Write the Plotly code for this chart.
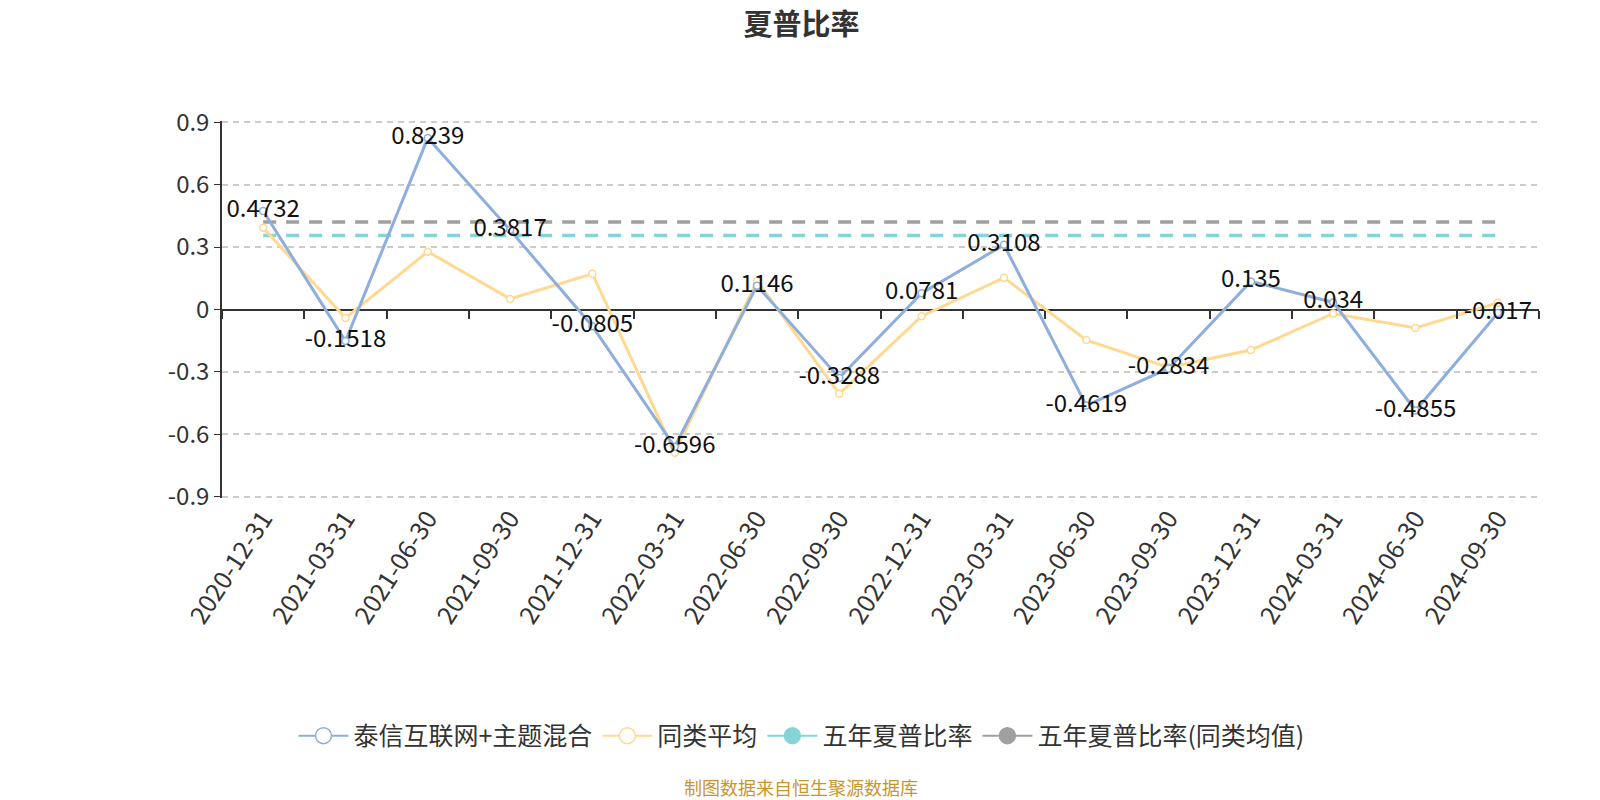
import plotly.graph_objects as go

dates = ["2020-12-31", "2021-03-31", "2021-06-30", "2021-09-30", "2021-12-31",
         "2022-03-31", "2022-06-30", "2022-09-30", "2022-12-31", "2023-03-31",
         "2023-06-30", "2023-09-30", "2023-12-31", "2024-03-31", "2024-06-30",
         "2024-09-30"]

fund_sharpe = [0.4732, -0.1518, 0.8239, 0.3817, -0.0805, -0.6596, 0.1146, -0.3288,
               0.0781, 0.3108, -0.4619, -0.2834, 0.135, 0.034, -0.4855, -0.017]

peer_avg = [0.393, -0.041, 0.278, 0.051, 0.172, -0.689, 0.137, -0.405,
            -0.032, 0.153, -0.147, -0.278, -0.195, -0.019, -0.089, 0.032]

five_year = 0.356
five_year_peer = 0.42

y_ticks = [0.9, 0.6, 0.3, 0, -0.3, -0.6, -0.9]
y_tick_text = ["0.9", "0.6", "0.3", "0", "-0.3", "-0.6", "-0.9"]

FONT = "Noto Sans CJK SC, Microsoft YaHei, sans-serif"
BLUE = "#8eaedc"
ORANGE = "#ffd892"
TEAL = "#86d4d8"
GRAY = "#a0a0a0"

fig = go.Figure()

# dashed reference lines first, so the series lie on top
fig.add_trace(go.Scatter(
    x=dates, y=[five_year] * len(dates), name="五年夏普比率",
    mode="lines", showlegend=False, hoverinfo="skip",
    line=dict(color=TEAL, width=3.5, dash="13px,10px"),
))
fig.add_trace(go.Scatter(
    x=dates, y=[five_year_peer] * len(dates), name="五年夏普比率(同类均值)",
    mode="lines", showlegend=False, hoverinfo="skip",
    line=dict(color=GRAY, width=3.5, dash="13px,10px"),
))

fig.add_trace(go.Scatter(
    x=dates, y=peer_avg, name="同类平均",
    mode="lines+markers", showlegend=False,
    line=dict(color=ORANGE, width=3),
    marker=dict(size=7, color="white", line=dict(color=ORANGE, width=1.5)),
))

fig.add_trace(go.Scatter(
    x=dates, y=fund_sharpe, name="泰信互联网+主题混合",
    mode="lines+markers+text", showlegend=False,
    line=dict(color=BLUE, width=3),
    marker=dict(size=7, color="white", line=dict(color=BLUE, width=1.5)),
    text=[str(v) for v in fund_sharpe],
    textposition="middle center",
    textfont=dict(size=24, color="#111", family=FONT),
))

# invisible trace so the tick-only axis at zero is drawn
fig.add_trace(go.Scatter(
    x=dates, y=[0] * len(dates), xaxis="x2", mode="lines",
    line=dict(width=0), showlegend=False, hoverinfo="skip",
))

# legend-only entries with the circle icons
legend_items = [
    ("泰信互联网+主题混合", BLUE, "white"),
    ("同类平均", ORANGE, "white"),
    ("五年夏普比率", TEAL, TEAL),
    ("五年夏普比率(同类均值)", GRAY, GRAY),
]
for name, col, fill in legend_items:
    fig.add_trace(go.Scatter(
        x=[None], y=[None], name=name, mode="lines+markers",
        line=dict(color=col, width=2),
        marker=dict(size=16, color=fill, line=dict(color=col, width=1.5)),
    ))

fig.update_layout(
    width=1600, height=800,
    paper_bgcolor="white", plot_bgcolor="white",
    font=dict(family=FONT, color="#333"),
    margin=dict(l=214, r=69, t=113, b=310, autoexpand=False),
    title=dict(text="<b>夏普比率</b>", x=0.496, xanchor="center", y=0.992,
               yanchor="top", font=dict(size=29, color="#333", family=FONT)),
    showlegend=True,
    legend=dict(orientation="h", x=0.44, xanchor="center", y=-0.631,
                yanchor="middle", font=dict(size=25, color="#333", family=FONT),
                traceorder="normal", itemwidth=50),
    xaxis=dict(
        type="category", range=[-0.5, 15.5],
        showgrid=False, showline=False, ticks="",
        tickangle=-57, tickfont=dict(size=25, color="#333", family=FONT),
        zeroline=False,
    ),
    xaxis2=dict(
        type="category", range=[-0.5, 15.5], overlaying="x", matches="x",
        anchor="free", position=0.5, side="bottom",
        showgrid=False, showline=False, showticklabels=False,
        ticks="outside", tickson="boundaries", ticklen=8,
        tickcolor="#333", tickwidth=1.5,
    ),
    yaxis=dict(
        range=[-0.906, 0.906], tickvals=y_ticks, ticktext=y_tick_text,
        showgrid=True, gridcolor="#cccccc", griddash="6px,5px", gridwidth=1.5,
        showline=True, linecolor="#333", linewidth=1.5,
        ticks="outside", ticklen=6, tickcolor="#333",
        tickfont=dict(size=24, color="#333", family=FONT),
        zeroline=True, zerolinecolor="#333", zerolinewidth=1.5,
    ),
    annotations=[dict(
        text="制图数据来自恒生聚源数据库", xref="paper", yref="paper",
        x=0.44, y=-0.767, xanchor="center", yanchor="middle", showarrow=False,
        font=dict(size=18, color="#c8962d", family=FONT),
    )],
)

fig.write_html("out.html")
